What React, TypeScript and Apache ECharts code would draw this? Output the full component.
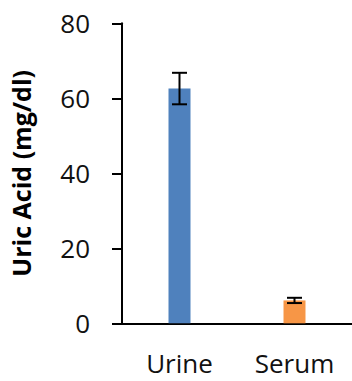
import React, { useEffect, useRef } from "react";
import * as echarts from "echarts";

const categories = ["Urine", "Serum"];
const means = [62.6, 6.1];
const errors = [4.2, 0.7];
const yTicks = { min: 0, max: 80, interval: 20 };
const barColors = ["#4f81bd", "#f79646"];

export default function App() {
  const ref = useRef<HTMLDivElement>(null);
  useEffect(() => {
    if (!ref.current) return;
    const chart = echarts.init(ref.current, undefined, { renderer: "svg" });
    const errData = means.map((m, i) => [i, m - errors[i], m + errors[i]]);
    chart.setOption({
      animation: false,
      grid: { left: 122, right: 0, top: 23.3, bottom: 57.7, containLabel: false },
      xAxis: {
        type: "category",
        data: categories,
        axisLine: { lineStyle: { color: "#000", width: 2 } },
        axisTick: { show: false },
        axisLabel: {
          margin: 27,
          color: "#111",
          fontFamily: "Open Sans",
          fontSize: 26,
        },
      },
      yAxis: {
        type: "value",
        min: yTicks.min,
        max: yTicks.max,
        interval: yTicks.interval,
        name: "Uric Acid (mg/dl)",
        nameLocation: "middle",
        nameGap: 89,
        nameTextStyle: {
          color: "#000",
          fontFamily: "Open Sans",
          fontWeight: "bold",
          fontSize: 25,
        },
        splitLine: { show: false },
        axisLine: { show: true, lineStyle: { color: "#000", width: 2 } },
        axisTick: { show: true, length: 10, lineStyle: { color: "#000", width: 2 } },
        axisLabel: {
          margin: 32,
          color: "#111",
          fontFamily: "Open Sans",
          fontSize: 26,
        },
      },
      series: [
        {
          type: "bar",
          barWidth: 22,
          data: means.map((v, i) => ({ value: v, itemStyle: { color: barColors[i] } })),
        },
        {
          type: "custom",
          data: errData,
          encode: { x: 0, y: [1, 2] },
          z: 10,
          renderItem: (params: any, api: any) => {
            const x = api.value(0);
            const lo = api.coord([x, api.value(1)]);
            const hi = api.coord([x, api.value(2)]);
            const hw = 7.5;
            const style = { stroke: "#000", lineWidth: 2 };
            return {
              type: "group",
              children: [
                { type: "line", shape: { x1: lo[0], y1: lo[1], x2: hi[0], y2: hi[1] }, style },
                { type: "line", shape: { x1: hi[0] - hw, y1: hi[1], x2: hi[0] + hw, y2: hi[1] }, style },
                { type: "line", shape: { x1: lo[0] - hw, y1: lo[1], x2: lo[0] + hw, y2: lo[1] }, style },
              ],
            };
          },
        },
      ],
    });
    return () => chart.dispose();
  }, []);
  return <div ref={ref} style={{ width: 352, height: 381, position: "absolute", left: 0, top: 0 }} />;
}
